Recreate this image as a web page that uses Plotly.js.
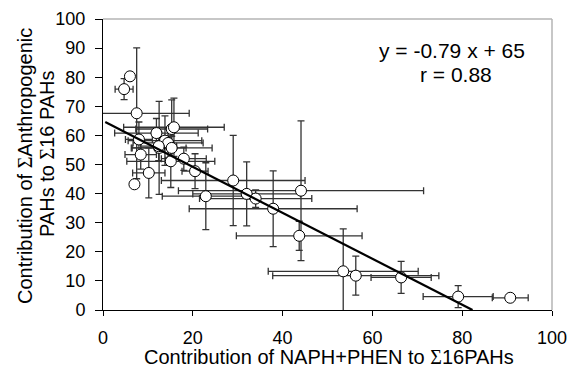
<!DOCTYPE html>
<html>
<head>
<meta charset="utf-8">
<script src="https://cdn.plot.ly/plotly-3.0.1.min.js"></script>
<style>html,body{margin:0;padding:0;background:#fff;}</style>
</head>
<body>
<div id="chart" style="width:572px;height:378px;"></div>
<script>
// Contribution of NAPH+PHEN to Σ16PAHs (x) and of ΣAnthropogenic PAHs (y)
const naphPhen   = [4.7, 6.0, 7.5, 11.9, 15.3, 15.8, 8.0, 13.8, 14.5, 12.5, 15.3, 12.4, 8.4, 18.0, 15.1, 20.5, 10.2, 7.0, 29.0, 22.9, 32.0, 34.0, 37.9, 44.1, 43.7, 53.5, 56.3, 66.4, 79.1, 90.7];
const anthropo   = [75.9, 80.3, 67.6, 60.8, 62.2, 62.8, 58.6, 58.2, 57.4, 55.7, 55.7, 56.3, 53.4, 52.0, 51.1, 47.7, 47.1, 43.2, 44.5, 39.1, 39.9, 38.3, 34.8, 41.0, 25.5, 13.3, 11.8, 11.2, 4.6, 4.2];
const naphPhenErr = [2.0, 0, 11.7, 9.3, 8.0, 11.2, 3.0, 8.2, 7.8, 6.0, 9.0, 4.0, 3.5, 5.0, 9.8, 2.9, 3.6, 0, 16.0, 9.7, 12.0, 12.5, 18.7, 27.3, 14.0, 16.7, 18.5, 6.7, 7.8, 4.0];
const anthropoErr = [3.6, 0, 22.5, 5.0, 10.0, 10.0, 6.0, 8.5, 5.0, 16.0, 4.0, 5.0, 5.0, 4.0, 9.0, 6.0, 8.6, 0, 15.5, 11.5, 11.0, 3.0, 13.0, 24.0, 5.0, 14.6, 6.7, 5.5, 3.8, 1.0];

// regression: y = -0.79 x + 65
const slope = -0.79;
const intercept = 65;
const fitX = [0.5, 82.3];
const fitY = fitX.map(v => slope * v + intercept);

const xTicks = [0, 20, 40, 60, 80, 100];
const yTicks = [0, 10, 20, 30, 40, 50, 60, 70, 80, 90, 100];

const FONT = 'Liberation Sans, Arial, sans-serif';
const SIG = '<span style="font-family:Liberation Serif, Times New Roman, serif">Σ</span>';

const traces = [
  {
    x: naphPhen, y: anthropo, type: 'scatter', mode: 'markers',
    marker: {symbol: 'circle', size: 11, color: '#ffffff', line: {color: '#000000', width: 1}},
    error_x: {type: 'data', array: naphPhenErr, visible: true, color: '#333333', thickness: 1.3, width: 3.5},
    error_y: {type: 'data', array: anthropoErr, visible: true, color: '#333333', thickness: 1.3, width: 3.5},
    showlegend: false, hoverinfo: 'x+y'
  },
  {
    x: fitX, y: fitY, type: 'scatter', mode: 'lines',
    line: {color: '#000000', width: 2.2}, showlegend: false, hoverinfo: 'skip'
  }
];

const titleFont = {family: FONT, size: 20, color: '#000000'};

const layout = {
  width: 572, height: 378,
  margin: {l: 103, r: 20, t: 19, b: 68},
  paper_bgcolor: '#ffffff', plot_bgcolor: '#ffffff',
  font: {family: FONT, size: 18, color: '#000000'},
  xaxis: {
    range: [0, 100], tickvals: xTicks, ticktext: xTicks.map(String),
    showgrid: false, zeroline: false, showline: true, linecolor: '#000000', linewidth: 1,
    ticks: 'outside', ticklen: 5, tickcolor: '#000000', tickwidth: 1, ticklabelstandoff: 6,
    tickfont: {family: FONT, size: 18, color: '#000000'},
    title: {text: ''}
  },
  yaxis: {
    range: [0, 100], tickvals: yTicks, ticktext: yTicks.map(String),
    showgrid: false, zeroline: false, showline: true, linecolor: '#000000', linewidth: 1,
    ticks: 'outside', ticklen: 7, tickcolor: '#000000', tickwidth: 1, ticklabelstandoff: 6,
    tickfont: {family: FONT, size: 18, color: '#000000'},
    title: {text: ''}
  },
  xaxis2: {
    range: [0, 100], overlaying: 'x', anchor: 'y', tickvals: xTicks, showticklabels: false,
    showgrid: false, zeroline: false, showline: false, ticks: 'inside', ticklen: 5, tickcolor: '#000000', side: 'bottom'
  },
  yaxis2: {
    range: [0, 100], overlaying: 'y', anchor: 'x', tickvals: yTicks, showticklabels: false,
    showgrid: false, zeroline: false, showline: false, ticks: 'inside', ticklen: 7, tickcolor: '#000000', side: 'left'
  },
  shapes: [
    {type: 'line', xref: 'paper', yref: 'paper', x0: 0, x1: 1, y0: 1, y1: 1, line: {color: '#b4b4b4', width: 1.5}},
    {type: 'line', xref: 'paper', yref: 'paper', x0: 1, x1: 1, y0: 0, y1: 1, line: {color: '#b4b4b4', width: 1.5}}
  ],
  annotations: [
    {xref: 'x', yref: 'y', x: 77.8, y: 89.1, text: 'y = -0.79 x + 65', showarrow: false, xanchor: 'center', yanchor: 'middle', font: {family: FONT, size: 21, color: '#000000'}},
    {xref: 'x', yref: 'y', x: 78.7, y: 81.0, text: 'r = 0.88', showarrow: false, xanchor: 'center', yanchor: 'middle', font: {family: FONT, size: 21, color: '#000000'}},
    {xref: 'paper', yref: 'paper', x: 0.5, y: 0, xshift: 1, yshift: -47, text: 'Contribution of NAPH+PHEN to ' + SIG + '16PAHs', showarrow: false, xanchor: 'center', yanchor: 'middle', font: titleFont},
    {xref: 'paper', yref: 'paper', x: 0, y: 0.5, xshift: -78, yshift: -1.5, textangle: -90, text: 'Contribution of ' + SIG + 'Anthropogenic', showarrow: false, xanchor: 'center', yanchor: 'middle', font: titleFont},
    {xref: 'paper', yref: 'paper', x: 0, y: 0.5, xshift: -56, yshift: 10.5, textangle: -90, text: 'PAHs to ' + SIG + '16 PAHs', showarrow: false, xanchor: 'center', yanchor: 'middle', font: titleFont}
  ]
};

Plotly.newPlot('chart', traces, layout, {displayModeBar: false, staticPlot: true});
</script>
</body>
</html>
